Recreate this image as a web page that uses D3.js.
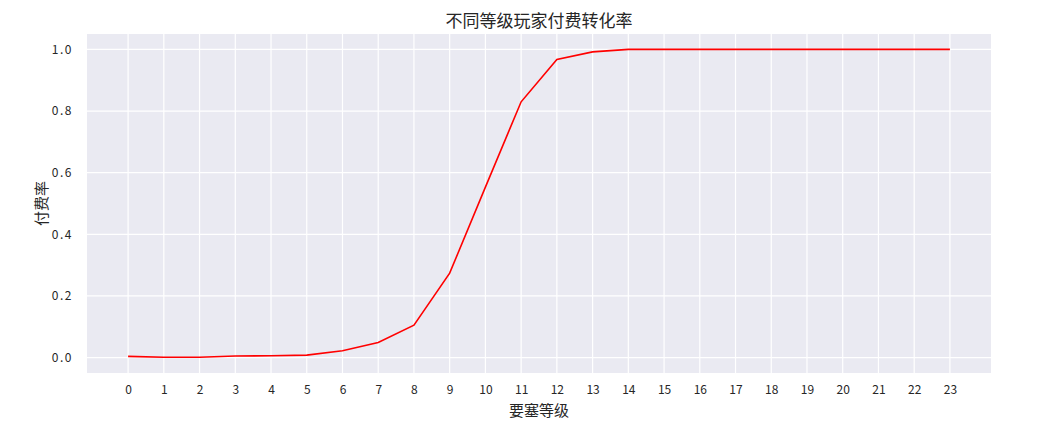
<!DOCTYPE html>
<html>
<head>
<meta charset="utf-8">
<script src="https://cdn.jsdelivr.net/npm/d3@7"></script>
<style>
  body { margin: 0; background: #fff; }
  text { font-family: "Noto Sans CJK SC", "DejaVu Sans", sans-serif; }
</style>
</head>
<body>
<script>
var w = 1037;
var h = 427;

// 要塞等级 0..23
var levels = [0, 1, 2, 3, 4, 5, 6, 7, 8, 9, 10, 11, 12, 13, 14, 15, 16, 17, 18, 19, 20, 21, 22, 23];
// 付费率
var rates = [0.004, 0.001, 0.001, 0.005, 0.006, 0.008, 0.022, 0.049, 0.105, 0.274, 0.553, 0.830,
             0.967, 0.992, 1.0, 1.0, 1.0, 1.0, 1.0, 1.0, 1.0, 1.0, 1.0, 1.0];
var yTicks = [0.0, 0.2, 0.4, 0.6, 0.8, 1.0];

// plot area (named so as not to clash with window.top)
var pLeft = 87, pRight = 991, pTop = 34, pBottom = 373;

var svg = d3.select("body")
    .append("svg")
    .attr("width", w)
    .attr("height", h);

var x = d3.scaleLinear()
    .domain([-1.15, 24.15])
    .range([pLeft, pRight]);

var y = d3.scaleLinear()
    .domain([-0.05, 1.05])
    .range([pBottom, pTop]);

svg.append("rect")
    .attr("x", pLeft)
    .attr("y", pTop)
    .attr("width", pRight - pLeft)
    .attr("height", pBottom - pTop)
    .attr("fill", "#eaeaf2");

// grid
svg.append("g")
    .selectAll("line")
    .data(levels)
    .enter()
    .append("line")
    .attr("x1", function(d) { return x(d); })
    .attr("x2", function(d) { return x(d); })
    .attr("y1", pTop)
    .attr("y2", pBottom)
    .attr("stroke", "#fff")
    .attr("stroke-width", 1.2);

svg.append("g")
    .selectAll("line")
    .data(yTicks)
    .enter()
    .append("line")
    .attr("x1", pLeft)
    .attr("x2", pRight)
    .attr("y1", function(d) { return y(d); })
    .attr("y2", function(d) { return y(d); })
    .attr("stroke", "#fff")
    .attr("stroke-width", 1.2);

// axes (labels only, seaborn style)
var xAxis = svg.append("g")
    .attr("transform", "translate(0," + pBottom + ")")
    .call(d3.axisBottom(x).tickValues(levels).tickSize(0).tickPadding(12).tickFormat(d3.format("d")));
xAxis.select(".domain").remove();
xAxis.selectAll("text")
    .attr("font-size", "12px")
    .attr("fill", "#262626")
    .attr("font-family", "\"Noto Sans CJK SC\", sans-serif");

var yAxis = svg.append("g")
    .attr("transform", "translate(" + pLeft + ",0)")
    .call(d3.axisLeft(y).tickValues(yTicks).tickSize(0).tickPadding(14).tickFormat(d3.format(".1f")));
yAxis.select(".domain").remove();
yAxis.selectAll("text")
    .attr("font-size", "12px")
    .attr("fill", "#262626")
    .attr("letter-spacing", "1.5px")
    .attr("font-family", "\"Noto Sans CJK SC\", sans-serif");

// line
var line = d3.line()
    .x(function(d, i) { return x(levels[i]); })
    .y(function(d) { return y(d); });

svg.append("path")
    .datum(rates)
    .attr("d", line)
    .attr("fill", "none")
    .attr("stroke", "red")
    .attr("stroke-width", 1.6);

// titles
svg.append("text")
    .attr("x", (pLeft + pRight) / 2)
    .attr("y", 27)
    .attr("text-anchor", "middle")
    .attr("font-size", "17px")
    .attr("fill", "#262626")
    .text("不同等级玩家付费转化率");

svg.append("text")
    .attr("x", (pLeft + pRight) / 2)
    .attr("y", 416)
    .attr("text-anchor", "middle")
    .attr("font-size", "15px")
    .attr("fill", "#262626")
    .text("要塞等级");

svg.append("text")
    .attr("transform", "translate(47," + ((pTop + pBottom) / 2) + ") rotate(-90)")
    .attr("text-anchor", "middle")
    .attr("font-size", "15px")
    .attr("fill", "#262626")
    .text("付费率");
</script>
</body>
</html>
